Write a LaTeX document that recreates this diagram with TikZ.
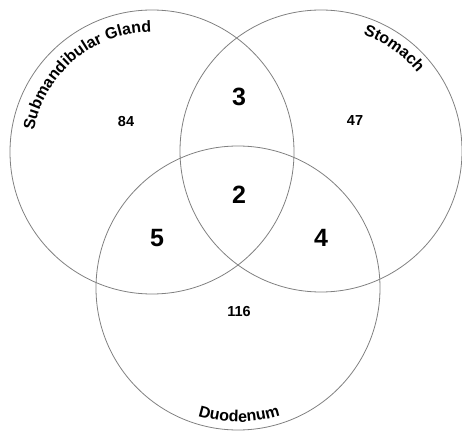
\documentclass[tikz,border=0pt]{standalone}
\usepackage{fontspec}
\setmainfont{Liberation Sans}
\usetikzlibrary{decorations.text}
\tikzset{
  setline/.style={draw=black!50, line width=0.8pt},
  small/.style={font=\bfseries\fontsize{14.5}{14.5}\selectfont},
  big/.style={font=\bfseries\fontsize{25}{25}\selectfont},
  setname/.style={decorate, decoration={text along path, text align=center,
    text={|\bfseries\fontsize{16}{16}\selectfont|#1}}}
}

\begin{document}
\begin{tikzpicture}[x=1pt,y=1pt]
\useasboundingbox (0,0) rectangle (462,431);
\draw[setline] (152,279) circle[radius=142];
\draw[setline] (321,280) circle[radius=141];
\draw[setline] (238,143) circle[radius=142];
\path[setname=Submandibular Gland] (152,279) ++(172:120) arc[start angle=172, end angle=88, radius=120];
\path[setname=Stomach] (321,280) ++(74:124) arc[start angle=74, end angle=35, radius=124];
\path[setname=Duodenum] (238,143) ++(245:134) arc[start angle=245, end angle=296, radius=134];
\node[small] (sg)   at (126,309) {84};
\node[small] (st)   at (355,310) {47};
\node[small] (du)   at (239,119) {116};
\node[big]   (sgst) at (239,334) {3};
\node[big]   (all)  at (239,236) {2};
\node[big]   (sgdu) at (157,193) {5};
\node[big]   (stdu) at (321,193) {4};
\end{tikzpicture}
\end{document}
